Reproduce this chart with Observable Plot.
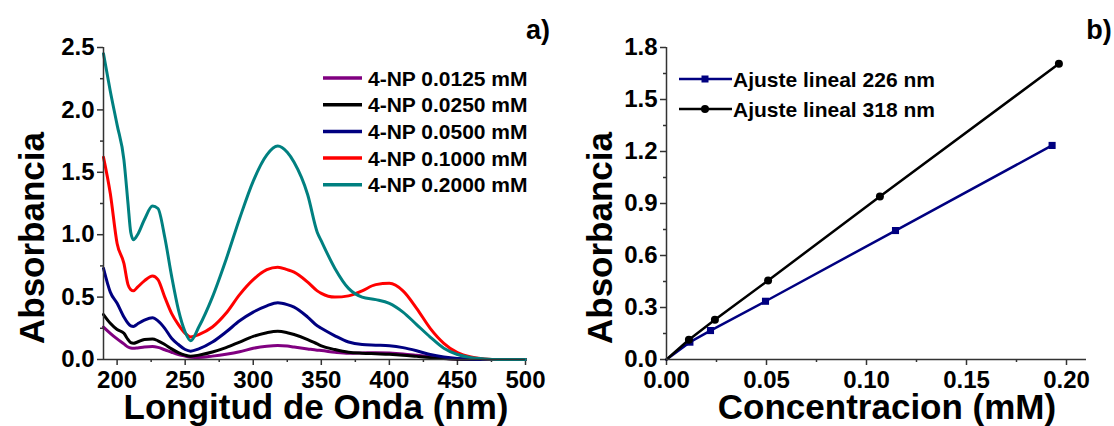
<!DOCTYPE html>
<html><head><meta charset="utf-8">
<script src="https://cdn.jsdelivr.net/npm/d3@7"></script>
<script src="https://cdn.jsdelivr.net/npm/@observablehq/plot@0.6"></script>
<style>
html,body{margin:0;padding:0;background:#fff;}
#wrap{display:flex;width:1114px;height:426px;overflow:hidden;}
</style></head><body><div id="wrap"></div>
<script>
// ---------- Panel a) data ----------
const wavelengths = [190,195,200,205,208,210,212,215,220,226,230,235,240,245,250,254,260,270,280,290,300,310,318,325,330,340,347,350,360,370,380,390,400,410,420,430,440,450,460,470,480,490,500];
const abs0125 = [0.26,0.21,0.165,0.125,0.10,0.092,0.09,0.093,0.10,0.104,0.097,0.078,0.058,0.04,0.028,0.018,0.016,0.027,0.042,0.062,0.09,0.107,0.113,0.108,0.10,0.085,0.075,0.072,0.058,0.05,0.052,0.055,0.052,0.045,0.034,0.022,0.01,0.004,0.001,0,0,0,0];
const abs0250 = [0.36,0.29,0.24,0.21,0.16,0.135,0.13,0.14,0.16,0.165,0.15,0.12,0.085,0.055,0.035,0.027,0.035,0.06,0.095,0.14,0.185,0.215,0.227,0.215,0.20,0.16,0.125,0.11,0.08,0.058,0.05,0.046,0.042,0.035,0.025,0.015,0.008,0.003,0.001,0,0,0,0];
const abs0500 = [0.73,0.54,0.45,0.34,0.29,0.27,0.265,0.285,0.315,0.335,0.31,0.25,0.17,0.12,0.08,0.067,0.085,0.14,0.22,0.31,0.38,0.43,0.455,0.44,0.42,0.34,0.27,0.25,0.19,0.14,0.12,0.115,0.11,0.095,0.07,0.04,0.02,0.008,0.003,0,0,0,0];
const abs1000 = [1.62,1.33,0.93,0.77,0.60,0.56,0.55,0.58,0.63,0.67,0.64,0.50,0.37,0.28,0.21,0.18,0.20,0.26,0.37,0.52,0.64,0.72,0.74,0.72,0.70,0.62,0.55,0.53,0.50,0.51,0.55,0.60,0.61,0.55,0.41,0.25,0.13,0.055,0.02,0.005,0,0,0];
const abs2000 = [2.45,2.15,1.88,1.60,1.25,1.02,0.96,1.00,1.12,1.23,1.21,0.98,0.67,0.40,0.22,0.15,0.26,0.50,0.80,1.13,1.43,1.64,1.71,1.66,1.58,1.32,1.02,0.95,0.73,0.57,0.50,0.48,0.45,0.38,0.28,0.18,0.09,0.04,0.015,0.005,0,0,0];
const specLabels = ["4-NP 0.0125 mM","4-NP 0.0250 mM","4-NP 0.0500 mM","4-NP 0.1000 mM","4-NP 0.2000 mM"];
const specSeries = [abs0125, abs0250, abs0500, abs1000, abs2000];
const specColors = ["#800080","#000000","#000080","#ff0000","#008080"];
const xTicksA = [200,250,300,350,400,450,500];
const xMinorA = [225,275,325,375,425,475];
const yTicksA = [0,0.5,1.0,1.5,2.0,2.5];
const yMinorA = [0.25,0.75,1.25,1.75,2.25];

// ---------- Panel b) data ----------
const conc226 = [0,0.0117,0.022,0.0495,0.1145,0.1928];
const abs226  = [0,0.10,0.167,0.336,0.744,1.235];
const conc318 = [0,0.0112,0.0242,0.0508,0.1067,0.1962];
const abs318  = [0,0.114,0.229,0.456,0.940,1.706];
const fitLabels = ["Ajuste lineal 226 nm","Ajuste lineal 318 nm"];
const xTicksB = [0,0.05,0.10,0.15,0.20];
const xMinorB = [0.025,0.075,0.125,0.175];
const yTicksB = [0,0.3,0.6,0.9,1.2,1.5,1.8];
const yMinorB = [0.15,0.45,0.75,1.05,1.35,1.65];

const FONT = '"Liberation Sans", Arial, Helvetica, sans-serif';
const AX = "#333";
const NAVY = "#000080";
const TICKFS = 24;
const baseStyle = {fontFamily: FONT, fontWeight: "bold", fontSize: TICKFS + "px", color: "#000", background: "#fff", overflow: "visible"};
const noText = () => "";

const specRows = [];
specSeries.forEach((vals, i) => wavelengths.forEach((w, j) => specRows.push({nm: w, abs: vals[j], key: specLabels[i]})));

const left = Plot.plot({
  width: 557, height: 426,
  marginLeft: 103, marginRight: 32, marginTop: 47, marginBottom: 67,
  x: {domain: [190, 500], label: null},
  y: {domain: [0, 2.5], label: null},
  color: {domain: specLabels, range: specColors},
  style: baseStyle,
  marks: [
    Plot.axisX(xMinorA, {tickSize: 3, tickFormat: noText, stroke: AX, strokeWidth: 1.5, label: null}),
    Plot.axisX(xTicksA, {tickSize: 6, tickPadding: 5, stroke: AX, strokeWidth: 1.5, fontSize: TICKFS, fontWeight: "bold", label: null}),
    Plot.axisY(yMinorA, {tickSize: 3, tickFormat: noText, stroke: AX, strokeWidth: 1.5, label: null}),
    Plot.axisY(yTicksA, {tickSize: 6, tickPadding: 3, stroke: AX, strokeWidth: 1.5, tickFormat: d3.format(".1f"), fontSize: TICKFS, fontWeight: "bold", label: null}),
    Plot.line(specRows, {x: "nm", y: "abs", z: "key", stroke: "key", strokeWidth: 3, curve: "monotone-x"}),
    Plot.ruleX([190], {stroke: AX, strokeWidth: 1.5}),
    Plot.ruleY([0], {stroke: AX, strokeWidth: 1.5})
  ]
});

const fit226 = conc226.map((c, i) => ({c, a: abs226[i]}));
const fit318 = conc318.map((c, i) => ({c, a: abs318[i]}));

const right = Plot.plot({
  width: 557, height: 426,
  marginLeft: 109, marginRight: 28, marginTop: 47, marginBottom: 67,
  x: {domain: [0, 0.21], label: null},
  y: {domain: [0, 1.8], label: null},
  style: baseStyle,
  marks: [
    Plot.axisX(xMinorB, {tickSize: 3, tickFormat: noText, stroke: AX, strokeWidth: 1.5, label: null}),
    Plot.axisX(xTicksB, {tickSize: 6, tickPadding: 5, stroke: AX, strokeWidth: 1.5, tickFormat: d3.format(".2f"), fontSize: TICKFS, fontWeight: "bold", label: null}),
    Plot.axisY(yMinorB, {tickSize: 3, tickFormat: noText, stroke: AX, strokeWidth: 1.5, label: null}),
    Plot.axisY(yTicksB, {tickSize: 6, tickPadding: 3, stroke: AX, strokeWidth: 1.5, tickFormat: d3.format(".1f"), fontSize: TICKFS, fontWeight: "bold", label: null}),
    Plot.line(fit226, {x: "c", y: "a", stroke: NAVY, strokeWidth: 2.5}),
    Plot.dot(fit226.slice(1), {x: "c", y: "a", symbol: "square", fill: NAVY, r: 4}),
    Plot.line(fit318, {x: "c", y: "a", stroke: "#000", strokeWidth: 2.5}),
    Plot.dot(fit318.slice(1), {x: "c", y: "a", symbol: "circle", fill: "#000", r: 4}),
    Plot.ruleX([0], {stroke: AX, strokeWidth: 1.5}),
    Plot.ruleY([0], {stroke: AX, strokeWidth: 1.5})
  ]
});

// Titles, panel labels and legends (added to each SVG)
function addText(svg, txt, x, y, size, opts = {}) {
  const t = d3.select(svg).append("text")
    .attr("font-family", FONT).attr("font-weight", "bold").attr("font-size", size)
    .attr("fill", "#000").attr("text-anchor", opts.anchor || "middle")
    .attr("transform", `translate(${x},${y})` + (opts.rotate ? ` rotate(${opts.rotate})` : ""))
    .text(txt);
  if (opts.dy) t.attr("dy", opts.dy);
  return t;
}

// panel a
addText(left, "Absorbancia", 44, 238, 35, {rotate: -90});
addText(left, "Longitud de Onda (nm)", 316, 419, 35);
addText(left, "a)", 538, 39, 27);
specLabels.forEach((lab, i) => {
  const y = 78 + i * 26.7;
  d3.select(left).append("line").attr("x1", 323).attr("x2", 362).attr("y1", y).attr("y2", y)
    .attr("stroke", specColors[i]).attr("stroke-width", 3.5);
  addText(left, lab, 368, y, 21, {anchor: "start", dy: "0.36em"});
});

// panel b (coordinates relative to the right SVG)
const ox = -557;
addText(right, "Absorbancia", 612 + ox, 238, 35, {rotate: -90});
addText(right, "Concentracion (mM)", 887 + ox, 419, 35);
addText(right, "b)", 1099 + ox, 39, 27);
[[NAVY, "square"], ["#000", "circle"]].forEach(([col, sym], i) => {
  const y = 79 + i * 30;
  const g = d3.select(right);
  g.append("line").attr("x1", 679 + ox).attr("x2", 732 + ox).attr("y1", y).attr("y2", y)
    .attr("stroke", col).attr("stroke-width", 2.5);
  if (sym === "square") {
    g.append("rect").attr("x", 705 + ox - 3.5).attr("y", y - 3.5).attr("width", 7).attr("height", 7).attr("fill", col);
  } else {
    g.append("circle").attr("cx", 705 + ox).attr("cy", y).attr("r", 4).attr("fill", col);
  }
  addText(right, fitLabels[i], 733 + ox, y, 21, {anchor: "start", dy: "0.36em"});
});

document.getElementById("wrap").append(left, right);
</script></body></html>
